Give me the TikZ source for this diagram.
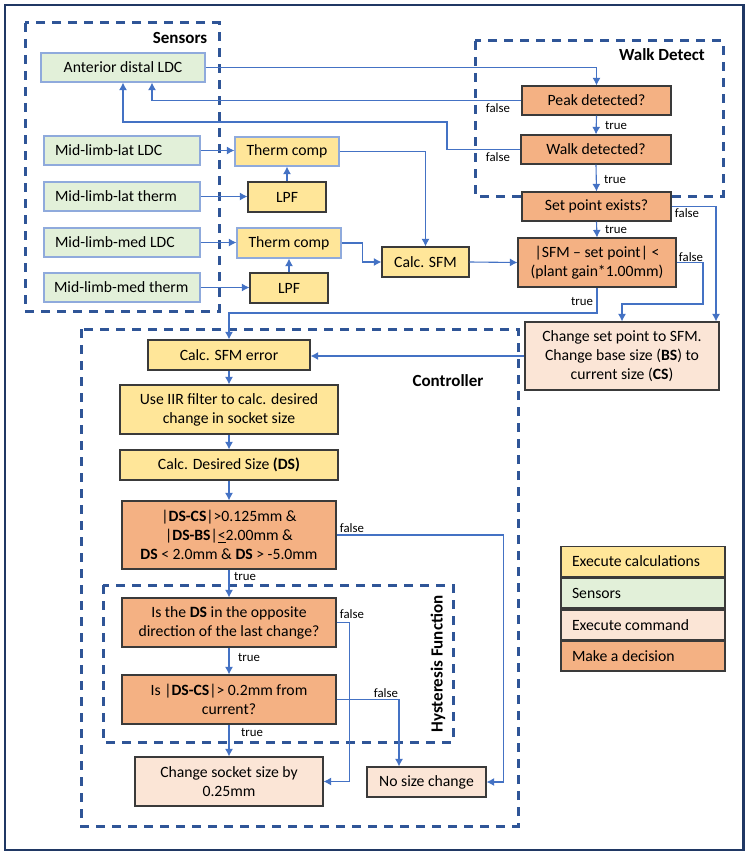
\documentclass[tikz,border=0pt]{standalone}
\usepackage{fontspec}
\setmainfont{Carlito}
\usepackage{tikz}
\usetikzlibrary{calc,arrows.meta}

\definecolor{framecol}{HTML}{203864}
\definecolor{groupcol}{HTML}{2F5597}
\definecolor{flowcol}{HTML}{4472C4}
\definecolor{sensfill}{HTML}{E2F0D9}
\definecolor{sensline}{HTML}{8FAADC}
\definecolor{calcfill}{HTML}{FFE699}
\definecolor{decfill}{HTML}{F4B183}
\definecolor{cmdfill}{HTML}{FBE5D6}
\definecolor{boxline}{HTML}{3A3A3A}

\newcommand{\lefttext}[2]{\makebox[#1][l]{#2}}

\tikzset{
  box/.style={draw=boxline,line width=1.2pt,inner sep=0pt,align=center,
    font=\fontsize{15.7}{19}\selectfont},
  sens/.style={box,fill=sensfill,draw=sensline},
  sensl/.style={sens,minimum width=156pt,minimum height=29pt},
  calcb/.style={box,fill=calcfill},
  dec/.style={box,fill=decfill},
  cmd/.style={box,fill=cmdfill},
  legendbox/.style={box,minimum width=164pt,minimum height=30pt},
  group/.style={draw=groupcol,line width=3pt,dash pattern=on 9pt off 7pt},
  title/.style={font=\fontsize{17}{20}\selectfont\bfseries},
  lbl/.style={font=\fontsize{12.8}{15}\selectfont,inner sep=0pt},
  flow/.style={draw=flowcol,line width=1.1pt,-{Latex[length=7.5pt,width=8pt]}}
}

\begin{document}
\begin{tikzpicture}[x=1pt,y=-1pt]
  \useasboundingbox (0,0) rectangle (748,856);
  \draw[framecol,line width=2.5pt] (5,5) rectangle (743.5,850);

  \draw[group] (25,23) rectangle (219,311);
  \draw[group] (475,41) rectangle (723,196);
  \draw[group] (81,329) rectangle (518,826);
  \draw[group] (103,585) rectangle (453,742);
  \node[title] (sensl) at (180,38) {Sensors};
  \node[title] (walkl) at (662,55) {Walk Detect};
  \node[title] (ctrll) at (448,381) {Controller};
  \node[title,rotate=90] (hystl) at (438,664) {Hysteresis Function};

  \node[sens,minimum width=164pt,minimum height=29pt] (ant) at (123,67.5) {Anterior distal LDC};
  \node[sensl] (latldc) at (122,150.5) {\lefttext{134pt}{Mid-limb-lat LDC}};
  \node[sensl] (latth) at (122,196.5) {\lefttext{134pt}{Mid-limb-lat therm}};
  \node[sensl] (medldc) at (122,242.5) {\lefttext{134pt}{Mid-limb-med LDC}};
  \node[sensl] (medth) at (122,287.5) {\lefttext{136pt}{Mid-limb-med therm}};

  \node[calcb,draw=sensline,minimum width=104pt,minimum height=29pt] (tc1) at (287,151.5) {Therm comp};
  \node[calcb,minimum width=78pt,minimum height=30pt] (lpf1) at (287,197) {LPF};
  \node[calcb,draw=sensline,minimum width=104pt,minimum height=30pt] (tc2) at (289,243) {Therm comp};
  \node[calcb,minimum width=78pt,minimum height=30pt] (lpf2) at (289,288) {LPF};
  \node[calcb,minimum width=87pt,minimum height=30pt] (sfm) at (425.5,262) {Calc. SFM};

  \node[dec,minimum width=149pt,minimum height=29pt] (peak) at (596.5,100.5) {Peak detected?};
  \node[dec,minimum width=150pt,minimum height=29pt] (walk) at (596,149.5) {Walk detected?};
  \node[dec,minimum width=149pt,minimum height=29pt] (setp) at (596.5,206.5) {Set point exists?};
  \node[dec,minimum width=158pt,minimum height=49pt] (err) at (597,262.5) {|SFM -- set point| <\\(plant gain*1.00mm)};
  \node[cmd,minimum width=194pt,minimum height=68pt] (chg) at (622,356)
    {Change set point to SFM.\\Change base size (\textbf{BS}) to\\current size (\textbf{CS})};

  \node[calcb,minimum width=162pt,minimum height=30pt] (sfmerr) at (229,355) {Calc. SFM error};
  \node[calcb,minimum width=218pt,minimum height=49pt] (iir) at (229,409.5) {Use IIR filter to calc. desired\\change in socket size};
  \node[calcb,minimum width=218pt,minimum height=30pt] (ds) at (229,465) {Calc. Desired Size \textbf{(DS)}};
  \node[dec,minimum width=214pt,minimum height=68pt] (chk) at (229,535)
    {|\textbf{DS-CS}|>0.125mm \&\\|\textbf{DS-BS}|\underline{<}2.00mm \&\\\textbf{DS} < 2.0mm \& \textbf{DS} > -5.0mm};
  \node[dec,minimum width=214pt,minimum height=49pt] (opp) at (229,622.5) {Is the \textbf{DS} in the opposite\\direction of the last change?};
  \node[dec,minimum width=214pt,minimum height=49pt] (thr) at (229,699.5) {Is |\textbf{DS-CS}|> 0.2mm from\\current?};
  \node[cmd,minimum width=188pt,minimum height=49pt] (sock) at (229,781.5) {Change socket size by\\0.25mm};
  \node[cmd,minimum width=119pt,minimum height=30pt] (nochg) at (426.5,782) {No size change};

  \node[legendbox,fill=calcfill] (lg1) at (643,561.5) {\lefttext{142pt}{Execute calculations}};
  \node[legendbox,fill=sensfill] (lg2) at (643,593) {\lefttext{142pt}{Sensors}};
  \node[legendbox,fill=cmdfill] (lg3) at (643,625) {\lefttext{142pt}{Execute command}};
  \node[legendbox,fill=decfill] (lg4) at (643,656) {\lefttext{142pt}{Make a decision}};

  \draw[flow] (latldc.east) -- (latldc.east -| tc1.west);
  \draw[flow] (latth.east) -- (latth.east -| lpf1.west);
  \draw[flow] (lpf1.north) -- (tc1.south);
  \draw[flow] (medldc.east) -- (medldc.east -| tc2.west);
  \draw[flow] (medth.east) -- (medth.east -| lpf2.west);
  \draw[flow] (lpf2.north) -- (tc2.south);
  \draw[flow] (tc1.east) -| (sfm.north);
  \draw[flow] (tc2.east) -- ++(21,0) |- (sfm.west);
  \draw[flow] (sfm.east) -- (err.west);

  \draw[flow] (ant.east) -| (peak.north);
  \draw[flow] (peak.south) -- (walk.north);
  \draw[flow] (walk.south) -- (setp.north);
  \draw[flow] (setp.south) -- (err.north);
  \draw[flow] (peak.west) -| ([xshift=29pt]ant.south);
  \draw[flow] (walk.west) -| (447,122) -| (ant.south);
  \draw[flow] (setp.east) -| ([xshift=94pt]chg.north);
  \draw[flow] (err.east) -| (703,304) -| (chg.north);
  \draw[flow] (err.south) |- (229,313) -- (sfmerr.north);
  \draw[flow] (chg.west) -- (chg.west -| sfmerr.east);

  \draw[flow] (sfmerr.south) -- (iir.north);
  \draw[flow] (iir.south) -- (ds.north);
  \draw[flow] (ds.south) -- (chk.north);
  \draw[flow] (chk.south) -- (opp.north);
  \draw[flow] (chk.east) -- ++(167,0) |- (nochg.east);
  \draw[flow] (opp.south) -- (thr.north);
  \draw[flow] (opp.east) -- ++(13,0) |- (sock.east);
  \draw[flow] (thr.south) -- (sock.north);
  \draw[flow] (thr.east) -| ([xshift=-27.5pt]nochg.north);

  \node[lbl] (t1) at (616,125) {true};
  \node[lbl] (t2) at (615,179) {true};
  \node[lbl] (t3) at (616,229) {true};
  \node[lbl] (f1) at (498,108) {false};
  \node[lbl] (f2) at (498,157) {false};
  \node[lbl] (f3) at (687,213) {false};
  \node[lbl] (f4) at (691,257) {false};
  \node[lbl] (t4) at (582,301) {true};
  \node[lbl] (f5) at (352,528) {false};
  \node[lbl] (t5) at (245,576) {true};
  \node[lbl] (f6) at (352,614) {false};
  \node[lbl] (t6) at (249,657) {true};
  \node[lbl] (f7) at (386,693) {false};
  \node[lbl] (t7) at (252,732) {true};
\end{tikzpicture}
\end{document}
